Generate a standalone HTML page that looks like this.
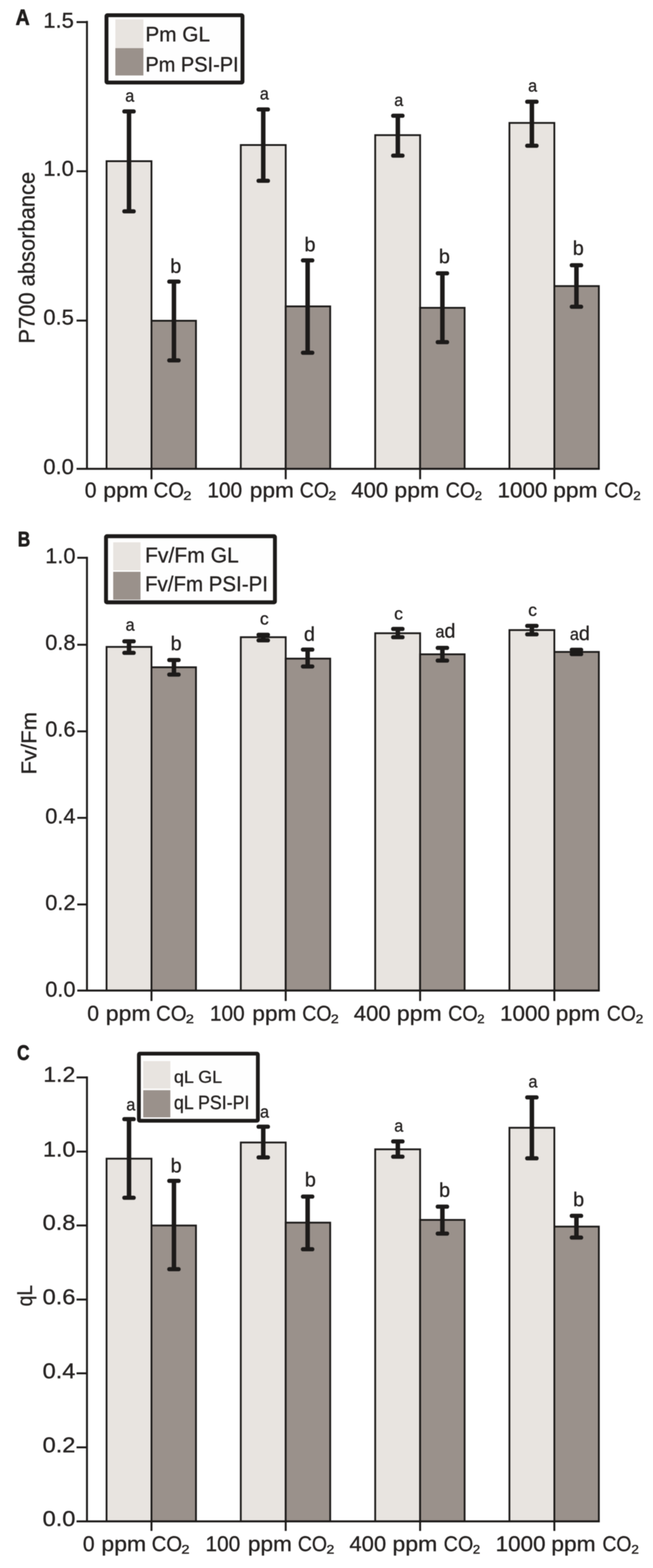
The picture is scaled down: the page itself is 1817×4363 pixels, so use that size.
<!DOCTYPE html>
<html lang="en">
<head>
<meta charset="utf-8">
<title>Figure: P700 absorbance, Fv/Fm and qL at different CO2 concentrations</title>
<style>
html,body{margin:0;padding:0;background:#fff;}
body{width:1817px;height:4363px;overflow:hidden;}
svg{display:block;font-family:"Liberation Sans", sans-serif;}
text{stroke:#262322;stroke-width:0.85px;stroke-linejoin:round;}
</style>
</head>
<body>
<svg width="1817" height="4363" viewBox="0 0 1817 4363">
<defs><filter id="soft" x="0" y="0" width="1817" height="4363" filterUnits="userSpaceOnUse" color-interpolation-filters="sRGB"><feGaussianBlur stdDeviation="1.3"/></filter></defs>
<g id="fig" filter="url(#soft)">
<rect x="-20" y="-20" width="1857" height="4403" fill="#ffffff"/>
<rect x="296.5" y="448.5" width="125" height="856.0" fill="#e8e4e0" stroke="#1c1a19" stroke-width="5.0"/>
<rect x="421.5" y="892.5" width="123.8" height="412.0" fill="#9a918b" stroke="#1c1a19" stroke-width="5.0"/>
<rect x="670" y="403.5" width="125" height="901.0" fill="#e8e4e0" stroke="#1c1a19" stroke-width="5.0"/>
<rect x="795" y="852.5" width="123.8" height="452.0" fill="#9a918b" stroke="#1c1a19" stroke-width="5.0"/>
<rect x="1044" y="376" width="125" height="928.5" fill="#e8e4e0" stroke="#1c1a19" stroke-width="5.0"/>
<rect x="1169" y="856.5" width="123.8" height="448.0" fill="#9a918b" stroke="#1c1a19" stroke-width="5.0"/>
<rect x="1417.5" y="342" width="125" height="962.5" fill="#e8e4e0" stroke="#1c1a19" stroke-width="5.0"/>
<rect x="1542.5" y="796" width="123.8" height="508.5" fill="#9a918b" stroke="#1c1a19" stroke-width="5.0"/>
<path d="M242.0 58.3V1304.5" stroke="#1c1a19" stroke-width="5.4" fill="none"/>
<path d="M213 1304.5H1668.6" stroke="#1c1a19" stroke-width="5.4" fill="none"/>
<path d="M421.5 1304.5V1333.5" stroke="#1c1a19" stroke-width="5.4" fill="none"/>
<path d="M795 1304.5V1333.5" stroke="#1c1a19" stroke-width="5.4" fill="none"/>
<path d="M1169 1304.5V1333.5" stroke="#1c1a19" stroke-width="5.4" fill="none"/>
<path d="M1542.5 1304.5V1333.5" stroke="#1c1a19" stroke-width="5.4" fill="none"/>
<path d="M213 61.5H242.0" stroke="#1c1a19" stroke-width="5.4" fill="none"/>
<text x="120.5" y="76.5" font-size="59.5" textLength="85" lengthAdjust="spacingAndGlyphs" fill="#262322">1.5</text>
<path d="M213 476.5H242.0" stroke="#1c1a19" stroke-width="5.4" fill="none"/>
<text x="120.5" y="488.5" font-size="59.5" textLength="85" lengthAdjust="spacingAndGlyphs" fill="#262322">1.0</text>
<path d="M213 892H242.0" stroke="#1c1a19" stroke-width="5.4" fill="none"/>
<text x="120.5" y="903.3" font-size="59.5" textLength="85" lengthAdjust="spacingAndGlyphs" fill="#262322">0.5</text>
<text x="120.5" y="1318.5" font-size="59.5" textLength="85" lengthAdjust="spacingAndGlyphs" fill="#262322">0.0</text>
<path d="M359 310V588" stroke="#1c1a19" stroke-width="12.5" fill="none"/>
<rect x="340.25" y="304.25" width="37.5" height="11.5" rx="5.23" fill="#1c1a19"/>
<rect x="340.25" y="582.25" width="37.5" height="11.5" rx="5.23" fill="#1c1a19"/>
<path d="M484 783.6V1002.8" stroke="#1c1a19" stroke-width="12.5" fill="none"/>
<rect x="465.25" y="777.85" width="37.5" height="11.5" rx="5.23" fill="#1c1a19"/>
<rect x="465.25" y="997.05" width="37.5" height="11.5" rx="5.23" fill="#1c1a19"/>
<path d="M732.5 304.5V503" stroke="#1c1a19" stroke-width="12.5" fill="none"/>
<rect x="713.75" y="298.75" width="37.5" height="11.5" rx="5.23" fill="#1c1a19"/>
<rect x="713.75" y="497.25" width="37.5" height="11.5" rx="5.23" fill="#1c1a19"/>
<path d="M856 724.5V981.5" stroke="#1c1a19" stroke-width="12.5" fill="none"/>
<rect x="837.25" y="718.75" width="37.5" height="11.5" rx="5.23" fill="#1c1a19"/>
<rect x="837.25" y="975.75" width="37.5" height="11.5" rx="5.23" fill="#1c1a19"/>
<path d="M1107 322V433" stroke="#1c1a19" stroke-width="12.5" fill="none"/>
<rect x="1088.25" y="316.25" width="37.5" height="11.5" rx="5.23" fill="#1c1a19"/>
<rect x="1088.25" y="427.25" width="37.5" height="11.5" rx="5.23" fill="#1c1a19"/>
<path d="M1231 760.5V952" stroke="#1c1a19" stroke-width="12.5" fill="none"/>
<rect x="1212.25" y="754.75" width="37.5" height="11.5" rx="5.23" fill="#1c1a19"/>
<rect x="1212.25" y="946.25" width="37.5" height="11.5" rx="5.23" fill="#1c1a19"/>
<path d="M1480 283V405.5" stroke="#1c1a19" stroke-width="12.5" fill="none"/>
<rect x="1461.25" y="277.25" width="37.5" height="11.5" rx="5.23" fill="#1c1a19"/>
<rect x="1461.25" y="399.75" width="37.5" height="11.5" rx="5.23" fill="#1c1a19"/>
<path d="M1604 738V853.6" stroke="#1c1a19" stroke-width="12.5" fill="none"/>
<rect x="1585.25" y="732.25" width="37.5" height="11.5" rx="5.23" fill="#1c1a19"/>
<rect x="1585.25" y="847.85" width="37.5" height="11.5" rx="5.23" fill="#1c1a19"/>
<text y="283" fill="#262322"><tspan x="348.46" font-size="49" textLength="25.07" lengthAdjust="spacingAndGlyphs">a</tspan></text>
<text y="759" fill="#262322"><tspan x="473.71" font-size="55" textLength="30.59" lengthAdjust="spacingAndGlyphs">b</tspan></text>
<text y="277" fill="#262322"><tspan x="722.96" font-size="49" textLength="25.07" lengthAdjust="spacingAndGlyphs">a</tspan></text>
<text y="699" fill="#262322"><tspan x="847.21" font-size="55" textLength="30.59" lengthAdjust="spacingAndGlyphs">b</tspan></text>
<text y="295" fill="#262322"><tspan x="1096.96" font-size="49" textLength="25.07" lengthAdjust="spacingAndGlyphs">a</tspan></text>
<text y="732" fill="#262322"><tspan x="1221.21" font-size="55" textLength="30.59" lengthAdjust="spacingAndGlyphs">b</tspan></text>
<text y="255" fill="#262322"><tspan x="1469.46" font-size="49" textLength="25.07" lengthAdjust="spacingAndGlyphs">a</tspan></text>
<text y="709" fill="#262322"><tspan x="1593.71" font-size="55" textLength="30.59" lengthAdjust="spacingAndGlyphs">b</tspan></text>
<rect x="296.3" y="42.3" width="378.4" height="187.4" fill="#fefefe" stroke="#1c1a19" stroke-width="10.8" stroke-linejoin="round" rx="2.5"/>
<rect x="321" y="54" width="78" height="80" fill="#e8e4e0"/>
<rect x="321" y="134" width="78" height="76" fill="#9a918b"/>
<text x="404.5" y="114.7" font-size="58" textLength="180" lengthAdjust="spacingAndGlyphs" fill="#262322">Pm GL</text>
<text x="404.5" y="199" font-size="58" textLength="259.5" lengthAdjust="spacingAndGlyphs" fill="#262322">Pm PSI-PI</text>
<text y="1383.8" font-size="58.4" fill="#262322"><tspan x="235.7" textLength="32.81" lengthAdjust="spacingAndGlyphs">0</tspan> <tspan x="287.37" textLength="124.65" lengthAdjust="spacingAndGlyphs">ppm</tspan> <tspan x="427.33" textLength="84.77" lengthAdjust="spacingAndGlyphs">CO</tspan><tspan x="508.87" textLength="25.15" lengthAdjust="spacingAndGlyphs" font-size="60" y="1385.8" stroke="#262322" stroke-width="1.1">₂</tspan></text>
<text y="1383.8" font-size="58.4" fill="#262322"><tspan x="576.98" textLength="96.78" lengthAdjust="spacingAndGlyphs">100</tspan> <tspan x="695.14" textLength="122.51" lengthAdjust="spacingAndGlyphs">ppm</tspan> <tspan x="833.94" textLength="81.46" lengthAdjust="spacingAndGlyphs">CO</tspan><tspan x="912.59" textLength="24.21" lengthAdjust="spacingAndGlyphs" font-size="60" y="1385.8" stroke="#262322" stroke-width="1.1">₂</tspan></text>
<text y="1383.8" font-size="58.4" fill="#262322"><tspan x="977.59" textLength="102.2" lengthAdjust="spacingAndGlyphs">400</tspan> <tspan x="1097.37" textLength="124.65" lengthAdjust="spacingAndGlyphs">ppm</tspan> <tspan x="1239.91" textLength="82.31" lengthAdjust="spacingAndGlyphs">CO</tspan><tspan x="1319.78" textLength="22.73" lengthAdjust="spacingAndGlyphs" font-size="60" y="1385.8" stroke="#262322" stroke-width="1.1">₂</tspan></text>
<text y="1383.8" font-size="58.4" fill="#262322"><tspan x="1384.23" textLength="139.21" lengthAdjust="spacingAndGlyphs">1000</tspan> <tspan x="1539.31" textLength="123.37" lengthAdjust="spacingAndGlyphs">ppm</tspan> <tspan x="1681.46" textLength="80.92" lengthAdjust="spacingAndGlyphs">CO</tspan><tspan x="1760.7" textLength="23.41" lengthAdjust="spacingAndGlyphs" font-size="60" y="1385.8" stroke="#262322" stroke-width="1.1">₂</tspan></text>
<text transform="translate(95.5 956) rotate(-90) scale(0.9602 1)" font-size="63.5" fill="#262322">P700 absorbance</text>
<text x="43.5" y="69" font-size="61" textLength="39" lengthAdjust="spacingAndGlyphs" font-weight="bold" fill="#1f1d1c" style="stroke:#1f1d1c;stroke-width:1.8px">A</text>
<rect x="296.5" y="1800" width="125" height="956.3" fill="#e8e4e0" stroke="#1c1a19" stroke-width="5.0"/>
<rect x="421.5" y="1856.7" width="123.8" height="899.6" fill="#9a918b" stroke="#1c1a19" stroke-width="5.0"/>
<rect x="670" y="1773" width="125" height="983.3" fill="#e8e4e0" stroke="#1c1a19" stroke-width="5.0"/>
<rect x="795" y="1832.6" width="123.8" height="923.7" fill="#9a918b" stroke="#1c1a19" stroke-width="5.0"/>
<rect x="1044" y="1762" width="125" height="994.3" fill="#e8e4e0" stroke="#1c1a19" stroke-width="5.0"/>
<rect x="1169" y="1820.6" width="123.8" height="935.7" fill="#9a918b" stroke="#1c1a19" stroke-width="5.0"/>
<rect x="1417.5" y="1753.2" width="125" height="1003.1" fill="#e8e4e0" stroke="#1c1a19" stroke-width="5.0"/>
<rect x="1542.5" y="1814" width="123.8" height="942.3" fill="#9a918b" stroke="#1c1a19" stroke-width="5.0"/>
<path d="M242.0 1549.3V2756.3" stroke="#1c1a19" stroke-width="5.4" fill="none"/>
<path d="M215 2756.3H1668.6" stroke="#1c1a19" stroke-width="5.4" fill="none"/>
<path d="M421.5 2756.3V2785.3" stroke="#1c1a19" stroke-width="5.4" fill="none"/>
<path d="M795 2756.3V2785.3" stroke="#1c1a19" stroke-width="5.4" fill="none"/>
<path d="M1169 2756.3V2785.3" stroke="#1c1a19" stroke-width="5.4" fill="none"/>
<path d="M1542.5 2756.3V2785.3" stroke="#1c1a19" stroke-width="5.4" fill="none"/>
<path d="M215 1552H242.0" stroke="#1c1a19" stroke-width="5.4" fill="none"/>
<text x="126" y="1567" font-size="59.5" textLength="84" lengthAdjust="spacingAndGlyphs" fill="#262322">1.0</text>
<path d="M215 1794H242.0" stroke="#1c1a19" stroke-width="5.4" fill="none"/>
<text x="126" y="1807.7" font-size="59.5" textLength="84" lengthAdjust="spacingAndGlyphs" fill="#262322">0.8</text>
<path d="M215 2035H242.0" stroke="#1c1a19" stroke-width="5.4" fill="none"/>
<text x="126" y="2048.8" font-size="59.5" textLength="84" lengthAdjust="spacingAndGlyphs" fill="#262322">0.6</text>
<path d="M215 2275.7H242.0" stroke="#1c1a19" stroke-width="5.4" fill="none"/>
<text x="126" y="2290.5" font-size="59.5" textLength="84" lengthAdjust="spacingAndGlyphs" fill="#262322">0.4</text>
<path d="M215 2516.7H242.0" stroke="#1c1a19" stroke-width="5.4" fill="none"/>
<text x="126" y="2531.5" font-size="59.5" textLength="84" lengthAdjust="spacingAndGlyphs" fill="#262322">0.2</text>
<text x="126" y="2772.5" font-size="59.5" textLength="84" lengthAdjust="spacingAndGlyphs" fill="#262322">0.0</text>
<path d="M359 1784.5V1816.6" stroke="#1c1a19" stroke-width="12.5" fill="none"/>
<rect x="340.25" y="1778.75" width="37.5" height="11.5" rx="5.23" fill="#1c1a19"/>
<rect x="340.25" y="1810.85" width="37.5" height="11.5" rx="5.23" fill="#1c1a19"/>
<path d="M484 1836.5V1877" stroke="#1c1a19" stroke-width="12.5" fill="none"/>
<rect x="465.25" y="1830.75" width="37.5" height="11.5" rx="5.23" fill="#1c1a19"/>
<rect x="465.25" y="1871.25" width="37.5" height="11.5" rx="5.23" fill="#1c1a19"/>
<path d="M732.5 1766.3V1781.7" stroke="#1c1a19" stroke-width="12.5" fill="none"/>
<rect x="713.75" y="1760.55" width="37.5" height="11.5" rx="5.23" fill="#1c1a19"/>
<rect x="713.75" y="1775.95" width="37.5" height="11.5" rx="5.23" fill="#1c1a19"/>
<path d="M856 1807.5V1854.4" stroke="#1c1a19" stroke-width="12.5" fill="none"/>
<rect x="837.25" y="1801.75" width="37.5" height="11.5" rx="5.23" fill="#1c1a19"/>
<rect x="837.25" y="1848.65" width="37.5" height="11.5" rx="5.23" fill="#1c1a19"/>
<path d="M1107 1750V1773" stroke="#1c1a19" stroke-width="12.5" fill="none"/>
<rect x="1088.25" y="1744.25" width="37.5" height="11.5" rx="5.23" fill="#1c1a19"/>
<rect x="1088.25" y="1767.25" width="37.5" height="11.5" rx="5.23" fill="#1c1a19"/>
<path d="M1231 1802.8V1838" stroke="#1c1a19" stroke-width="12.5" fill="none"/>
<rect x="1212.25" y="1797.05" width="37.5" height="11.5" rx="5.23" fill="#1c1a19"/>
<rect x="1212.25" y="1832.25" width="37.5" height="11.5" rx="5.23" fill="#1c1a19"/>
<path d="M1480 1741.5V1765" stroke="#1c1a19" stroke-width="12.5" fill="none"/>
<rect x="1461.25" y="1735.75" width="37.5" height="11.5" rx="5.23" fill="#1c1a19"/>
<rect x="1461.25" y="1759.25" width="37.5" height="11.5" rx="5.23" fill="#1c1a19"/>
<path d="M1604 1808V1820" stroke="#1c1a19" stroke-width="12.5" fill="none"/>
<rect x="1585.25" y="1802.25" width="37.5" height="11.5" rx="5.23" fill="#1c1a19"/>
<rect x="1585.25" y="1814.25" width="37.5" height="11.5" rx="5.23" fill="#1c1a19"/>
<text y="1755" fill="#262322"><tspan x="349.46" font-size="49" textLength="25.07" lengthAdjust="spacingAndGlyphs">a</tspan></text>
<text y="1809" fill="#262322"><tspan x="474.71" font-size="55" textLength="30.59" lengthAdjust="spacingAndGlyphs">b</tspan></text>
<text y="1738" fill="#262322"><tspan x="723.25" font-size="49" textLength="24.5" lengthAdjust="spacingAndGlyphs">c</tspan></text>
<text y="1783" fill="#262322"><tspan x="845.71" font-size="55" textLength="30.59" lengthAdjust="spacingAndGlyphs">d</tspan></text>
<text y="1724" fill="#262322"><tspan x="1096.75" font-size="49" textLength="24.5" lengthAdjust="spacingAndGlyphs">c</tspan></text>
<text y="1774" fill="#262322"><tspan x="1211.67" font-size="49" textLength="25.07" lengthAdjust="spacingAndGlyphs">a</tspan><tspan x="1236.74" font-size="55" textLength="30.59" lengthAdjust="spacingAndGlyphs">d</tspan></text>
<text y="1714" fill="#262322"><tspan x="1469.75" font-size="49" textLength="24.5" lengthAdjust="spacingAndGlyphs">c</tspan></text>
<text y="1781" fill="#262322"><tspan x="1585.67" font-size="49" textLength="25.07" lengthAdjust="spacingAndGlyphs">a</tspan><tspan x="1610.74" font-size="55" textLength="30.59" lengthAdjust="spacingAndGlyphs">d</tspan></text>
<rect x="295" y="1492" width="470" height="184" fill="#fefefe" stroke="#1c1a19" stroke-width="10.8" stroke-linejoin="round" rx="2.5"/>
<rect x="315" y="1509" width="76" height="78" fill="#e8e4e0"/>
<rect x="315" y="1591" width="76" height="77.5" fill="#9a918b"/>
<text x="403.5" y="1565" font-size="60" textLength="261" lengthAdjust="spacingAndGlyphs" fill="#262322">Fv/Fm GL</text>
<text x="403.5" y="1645" font-size="60" textLength="342" lengthAdjust="spacingAndGlyphs" fill="#262322">Fv/Fm PSI-PI</text>
<text y="2839.8" font-size="58.4" fill="#262322"><tspan x="242.7" textLength="32.81" lengthAdjust="spacingAndGlyphs">0</tspan> <tspan x="294.37" textLength="124.65" lengthAdjust="spacingAndGlyphs">ppm</tspan> <tspan x="434.33" textLength="84.77" lengthAdjust="spacingAndGlyphs">CO</tspan><tspan x="515.87" textLength="25.15" lengthAdjust="spacingAndGlyphs" font-size="60" y="2841.8" stroke="#262322" stroke-width="1.1">₂</tspan></text>
<text y="2839.8" font-size="58.4" fill="#262322"><tspan x="583.98" textLength="96.78" lengthAdjust="spacingAndGlyphs">100</tspan> <tspan x="702.14" textLength="122.51" lengthAdjust="spacingAndGlyphs">ppm</tspan> <tspan x="840.94" textLength="81.46" lengthAdjust="spacingAndGlyphs">CO</tspan><tspan x="919.59" textLength="24.21" lengthAdjust="spacingAndGlyphs" font-size="60" y="2841.8" stroke="#262322" stroke-width="1.1">₂</tspan></text>
<text y="2839.8" font-size="58.4" fill="#262322"><tspan x="984.59" textLength="102.2" lengthAdjust="spacingAndGlyphs">400</tspan> <tspan x="1104.37" textLength="124.65" lengthAdjust="spacingAndGlyphs">ppm</tspan> <tspan x="1246.91" textLength="82.31" lengthAdjust="spacingAndGlyphs">CO</tspan><tspan x="1326.78" textLength="22.73" lengthAdjust="spacingAndGlyphs" font-size="60" y="2841.8" stroke="#262322" stroke-width="1.1">₂</tspan></text>
<text y="2839.8" font-size="58.4" fill="#262322"><tspan x="1391.23" textLength="139.21" lengthAdjust="spacingAndGlyphs">1000</tspan> <tspan x="1546.31" textLength="123.37" lengthAdjust="spacingAndGlyphs">ppm</tspan> <tspan x="1688.46" textLength="80.92" lengthAdjust="spacingAndGlyphs">CO</tspan><tspan x="1767.7" textLength="23.41" lengthAdjust="spacingAndGlyphs" font-size="60" y="2841.8" stroke="#262322" stroke-width="1.1">₂</tspan></text>
<text transform="translate(100.5 2155) rotate(-90) scale(1.0238 1)" font-size="60" fill="#262322">Fv/Fm</text>
<text x="49.5" y="1519.5" font-size="58" textLength="34.5" lengthAdjust="spacingAndGlyphs" font-weight="bold" fill="#1f1d1c" style="stroke:#1f1d1c;stroke-width:1.8px">B</text>
<rect x="296.5" y="3224" width="125" height="1009.3" fill="#e8e4e0" stroke="#1c1a19" stroke-width="5.0"/>
<rect x="421.5" y="3410" width="123.8" height="823.3" fill="#9a918b" stroke="#1c1a19" stroke-width="5.0"/>
<rect x="670" y="3179" width="125" height="1054.3" fill="#e8e4e0" stroke="#1c1a19" stroke-width="5.0"/>
<rect x="795" y="3402" width="123.8" height="831.3" fill="#9a918b" stroke="#1c1a19" stroke-width="5.0"/>
<rect x="1044" y="3198" width="125" height="1035.3" fill="#e8e4e0" stroke="#1c1a19" stroke-width="5.0"/>
<rect x="1169" y="3394.4" width="123.8" height="838.9" fill="#9a918b" stroke="#1c1a19" stroke-width="5.0"/>
<rect x="1417.5" y="3138" width="125" height="1095.3" fill="#e8e4e0" stroke="#1c1a19" stroke-width="5.0"/>
<rect x="1542.5" y="3413" width="123.8" height="820.3" fill="#9a918b" stroke="#1c1a19" stroke-width="5.0"/>
<path d="M242.0 2995.3V4233.3" stroke="#1c1a19" stroke-width="5.4" fill="none"/>
<path d="M213 4233.3H1668.6" stroke="#1c1a19" stroke-width="5.4" fill="none"/>
<path d="M421.5 4233.3V4259.8" stroke="#1c1a19" stroke-width="5.4" fill="none"/>
<path d="M795 4233.3V4259.8" stroke="#1c1a19" stroke-width="5.4" fill="none"/>
<path d="M1169 4233.3V4259.8" stroke="#1c1a19" stroke-width="5.4" fill="none"/>
<path d="M1542.5 4233.3V4259.8" stroke="#1c1a19" stroke-width="5.4" fill="none"/>
<path d="M213 2998H242.0" stroke="#1c1a19" stroke-width="5.4" fill="none"/>
<text x="120.5" y="3010" font-size="59.5" textLength="89" lengthAdjust="spacingAndGlyphs" fill="#262322">1.2</text>
<path d="M213 3204.3H242.0" stroke="#1c1a19" stroke-width="5.4" fill="none"/>
<text x="119.5" y="3217.8" font-size="59.5" textLength="90.5" lengthAdjust="spacingAndGlyphs" fill="#262322">1.0</text>
<path d="M213 3409.9H242.0" stroke="#1c1a19" stroke-width="5.4" fill="none"/>
<text x="118.4" y="3422.2" font-size="59.5" textLength="91.4" lengthAdjust="spacingAndGlyphs" fill="#262322">0.8</text>
<path d="M213 3616H242.0" stroke="#1c1a19" stroke-width="5.4" fill="none"/>
<text x="118.4" y="3629" font-size="59.5" textLength="91.4" lengthAdjust="spacingAndGlyphs" fill="#262322">0.6</text>
<path d="M213 3821.3H242.0" stroke="#1c1a19" stroke-width="5.4" fill="none"/>
<text x="118.4" y="3834.6" font-size="59.5" textLength="91.4" lengthAdjust="spacingAndGlyphs" fill="#262322">0.4</text>
<path d="M213 4027.3H242.0" stroke="#1c1a19" stroke-width="5.4" fill="none"/>
<text x="118.4" y="4040.5" font-size="59.5" textLength="91.4" lengthAdjust="spacingAndGlyphs" fill="#262322">0.2</text>
<text x="118.4" y="4246" font-size="59.5" textLength="91.4" lengthAdjust="spacingAndGlyphs" fill="#262322">0.0</text>
<path d="M359 3114V3332.7" stroke="#1c1a19" stroke-width="12.5" fill="none"/>
<rect x="340.25" y="3108.25" width="37.5" height="11.5" rx="5.23" fill="#1c1a19"/>
<rect x="340.25" y="3326.95" width="37.5" height="11.5" rx="5.23" fill="#1c1a19"/>
<path d="M484 3285.7V3531.6" stroke="#1c1a19" stroke-width="12.5" fill="none"/>
<rect x="465.25" y="3279.95" width="37.5" height="11.5" rx="5.23" fill="#1c1a19"/>
<rect x="465.25" y="3525.85" width="37.5" height="11.5" rx="5.23" fill="#1c1a19"/>
<path d="M732.5 3135V3220.5" stroke="#1c1a19" stroke-width="12.5" fill="none"/>
<rect x="713.75" y="3129.25" width="37.5" height="11.5" rx="5.23" fill="#1c1a19"/>
<rect x="713.75" y="3214.75" width="37.5" height="11.5" rx="5.23" fill="#1c1a19"/>
<path d="M856 3329.5V3476" stroke="#1c1a19" stroke-width="12.5" fill="none"/>
<rect x="837.25" y="3323.75" width="37.5" height="11.5" rx="5.23" fill="#1c1a19"/>
<rect x="837.25" y="3470.25" width="37.5" height="11.5" rx="5.23" fill="#1c1a19"/>
<path d="M1107 3176V3218.5" stroke="#1c1a19" stroke-width="12.5" fill="none"/>
<rect x="1088.25" y="3170.25" width="37.5" height="11.5" rx="5.23" fill="#1c1a19"/>
<rect x="1088.25" y="3212.75" width="37.5" height="11.5" rx="5.23" fill="#1c1a19"/>
<path d="M1231 3357.5V3432.5" stroke="#1c1a19" stroke-width="12.5" fill="none"/>
<rect x="1212.25" y="3351.75" width="37.5" height="11.5" rx="5.23" fill="#1c1a19"/>
<rect x="1212.25" y="3426.75" width="37.5" height="11.5" rx="5.23" fill="#1c1a19"/>
<path d="M1480 3053.5V3223" stroke="#1c1a19" stroke-width="12.5" fill="none"/>
<rect x="1461.25" y="3047.75" width="37.5" height="11.5" rx="5.23" fill="#1c1a19"/>
<rect x="1461.25" y="3217.25" width="37.5" height="11.5" rx="5.23" fill="#1c1a19"/>
<path d="M1604 3383V3443.6" stroke="#1c1a19" stroke-width="12.5" fill="none"/>
<rect x="1585.25" y="3377.25" width="37.5" height="11.5" rx="5.23" fill="#1c1a19"/>
<rect x="1585.25" y="3437.85" width="37.5" height="11.5" rx="5.23" fill="#1c1a19"/>
<text y="3090" fill="#262322"><tspan x="351.46" font-size="49" textLength="25.07" lengthAdjust="spacingAndGlyphs">a</tspan></text>
<text y="3262" fill="#262322"><tspan x="474.71" font-size="55" textLength="30.59" lengthAdjust="spacingAndGlyphs">b</tspan></text>
<text y="3109.6" fill="#262322"><tspan x="723.46" font-size="49" textLength="25.07" lengthAdjust="spacingAndGlyphs">a</tspan></text>
<text y="3301" fill="#262322"><tspan x="848.21" font-size="55" textLength="30.59" lengthAdjust="spacingAndGlyphs">b</tspan></text>
<text y="3148.8" fill="#262322"><tspan x="1096.96" font-size="49" textLength="25.07" lengthAdjust="spacingAndGlyphs">a</tspan></text>
<text y="3329.5" fill="#262322"><tspan x="1221.71" font-size="55" textLength="30.59" lengthAdjust="spacingAndGlyphs">b</tspan></text>
<text y="3026" fill="#262322"><tspan x="1470.46" font-size="49" textLength="25.07" lengthAdjust="spacingAndGlyphs">a</tspan></text>
<text y="3355.5" fill="#262322"><tspan x="1594.71" font-size="55" textLength="30.59" lengthAdjust="spacingAndGlyphs">b</tspan></text>
<rect x="386.5" y="2931.8" width="331" height="186.7" fill="#fefefe" stroke="#1c1a19" stroke-width="10.6" stroke-linejoin="round" rx="2.5"/>
<rect x="398.5" y="2952.5" width="75.5" height="76.5" fill="#e8e4e0"/>
<rect x="398.5" y="3033.5" width="75.5" height="75.5" fill="#9a918b"/>
<text x="484" y="3013" font-size="49" textLength="134" lengthAdjust="spacingAndGlyphs" fill="#262322">qL GL</text>
<text x="484" y="3086.3" font-size="53.5" textLength="210" lengthAdjust="spacingAndGlyphs" fill="#262322">qL PSI-PI</text>
<text y="4316" font-size="58.4" fill="#262322"><tspan x="230.4" textLength="32.81" lengthAdjust="spacingAndGlyphs">0</tspan> <tspan x="282.07" textLength="124.65" lengthAdjust="spacingAndGlyphs">ppm</tspan> <tspan x="422.03" textLength="84.77" lengthAdjust="spacingAndGlyphs">CO</tspan><tspan x="503.57" textLength="25.15" lengthAdjust="spacingAndGlyphs" font-size="60" y="4318" stroke="#262322" stroke-width="1.1">₂</tspan></text>
<text y="4316" font-size="58.4" fill="#262322"><tspan x="571.68" textLength="96.78" lengthAdjust="spacingAndGlyphs">100</tspan> <tspan x="689.84" textLength="122.51" lengthAdjust="spacingAndGlyphs">ppm</tspan> <tspan x="828.64" textLength="81.46" lengthAdjust="spacingAndGlyphs">CO</tspan><tspan x="907.29" textLength="24.21" lengthAdjust="spacingAndGlyphs" font-size="60" y="4318" stroke="#262322" stroke-width="1.1">₂</tspan></text>
<text y="4316" font-size="58.4" fill="#262322"><tspan x="972.29" textLength="102.2" lengthAdjust="spacingAndGlyphs">400</tspan> <tspan x="1092.07" textLength="124.65" lengthAdjust="spacingAndGlyphs">ppm</tspan> <tspan x="1234.61" textLength="82.31" lengthAdjust="spacingAndGlyphs">CO</tspan><tspan x="1314.48" textLength="22.73" lengthAdjust="spacingAndGlyphs" font-size="60" y="4318" stroke="#262322" stroke-width="1.1">₂</tspan></text>
<text y="4316" font-size="58.4" fill="#262322"><tspan x="1378.93" textLength="139.21" lengthAdjust="spacingAndGlyphs">1000</tspan> <tspan x="1534.01" textLength="123.37" lengthAdjust="spacingAndGlyphs">ppm</tspan> <tspan x="1676.16" textLength="80.92" lengthAdjust="spacingAndGlyphs">CO</tspan><tspan x="1755.4" textLength="23.41" lengthAdjust="spacingAndGlyphs" font-size="60" y="4318" stroke="#262322" stroke-width="1.1">₂</tspan></text>
<text transform="translate(89 3635) rotate(-90) scale(0.8915 1)" font-size="60" fill="#262322">qL</text>
<text x="47.5" y="2948.6" font-size="58" textLength="34.5" lengthAdjust="spacingAndGlyphs" font-weight="bold" fill="#1f1d1c" style="stroke:#1f1d1c;stroke-width:1.8px">C</text>
</g>
</svg>
</body>
</html>
